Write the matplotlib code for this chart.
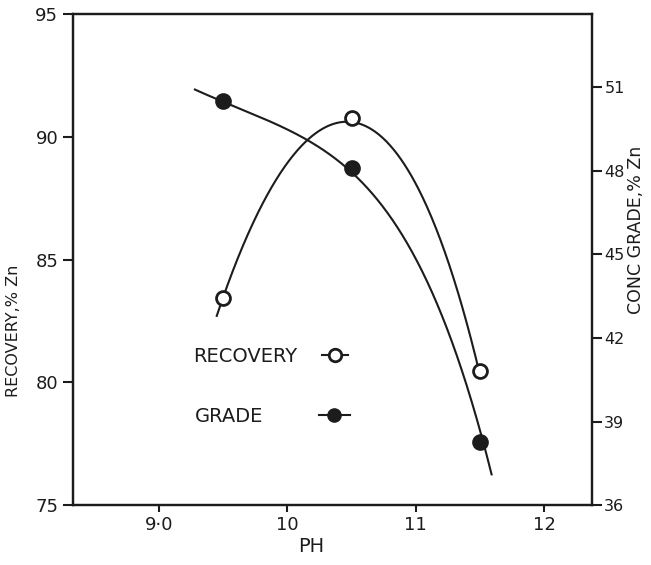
import numpy as np
import matplotlib
matplotlib.use("Agg")
import matplotlib.pyplot as plt

# ---- data ----
ph = [9.5, 10.5, 11.5]
recovery = [83.45, 90.75, 80.45]      # % Zn (left axis)
grade = [50.5, 48.1, 38.27]           # conc grade % Zn (right axis)

# hand-drawn trend curves
rec_curve_ph = [9.45, 9.49, 9.64, 9.83, 10.01, 10.20, 10.47, 10.65, 10.86, 11.07, 11.23, 11.28, 11.50]
rec_curve_val = [82.44, 83.41, 85.77, 87.52, 88.90, 89.72, 90.77, 90.33, 89.43, 87.68, 84.96, 84.15, 80.49]
grade_curve_ph = [9.28, 9.50, 9.85, 10.20, 10.39, 10.52, 10.65, 10.86, 11.08, 11.25, 11.50, 11.59]
grade_curve_val = [50.90, 50.51, 49.85, 48.95, 48.23, 47.99, 47.22, 46.00, 44.09, 42.40, 38.27, 37.37]

xticks = [9.0, 10, 11, 12]
xticklabels = ["9·0", "10", "11", "12"]
left_ticks = [75, 80, 85, 90, 95]
right_ticks = [36, 39, 42, 45, 48, 51]

ink = "#1c1c1c"
plt.rcParams["font.family"] = ["DejaVu Sans"]

fig = plt.figure(figsize=(6.51, 5.65), dpi=100)
ax = fig.add_axes([0.112, 0.106, 0.797, 0.869])
ax2 = ax.twinx()

ax.set_xlim(8.33, 12.37)
ax.set_ylim(75, 95)
ax2.set_ylim(36, 53.63)

# smooth curves from traced points
def smooth(xv, yv, deg):
    c = np.polyfit(xv, yv, deg)
    xs = np.linspace(min(xv), max(xv), 300)
    return xs, np.polyval(c, xs)

xs, ys = smooth(rec_curve_ph, rec_curve_val, 4)
ax.plot(xs, ys, color=ink, lw=1.5, zorder=2)
xs, ys = smooth(grade_curve_ph, grade_curve_val, 4)
ax2.plot(xs, ys, color=ink, lw=1.5, zorder=2)

ax.plot(ph, recovery, linestyle="none", marker="o", ms=10, mfc="white",
        mec=ink, mew=2, zorder=3)
ax2.plot(ph, grade, linestyle="none", marker="o", ms=10.5, mfc=ink,
         mec=ink, mew=1.5, zorder=3)

# legend entries (text first, then handle), one legend per entry
h_rec = plt.Line2D([], [], color=ink, lw=1.5, marker="o", ms=9, mfc="white", mec=ink, mew=2)
h_gr = plt.Line2D([], [], color=ink, lw=1.5, marker="o", ms=9.5, mfc=ink, mec=ink)
leg1 = ax2.legend([h_rec], ["RECOVERY"], loc="upper left",
                  bbox_to_anchor=(0.231, 0.322), frameon=False, markerfirst=False,
                  fontsize=14, handlelength=1.34, handletextpad=1.3, borderpad=0,
                  borderaxespad=0)
ax2.add_artist(leg1)
leg2 = ax2.legend([h_gr], ["GRADE"], loc="upper left",
                  bbox_to_anchor=(0.235, 0.200), frameon=False, markerfirst=False,
                  fontsize=14, handlelength=1.6, handletextpad=2.85, borderpad=0,
                  borderaxespad=0)
for lg in (leg1, leg2):
    for t in lg.get_texts():
        t.set_color(ink)

ax.set_xticks(xticks)
ax.set_xticklabels(xticklabels)
ax.set_yticks(left_ticks)
ax2.set_yticks(right_ticks)

for a in (ax, ax2):
    for s in a.spines.values():
        s.set_linewidth(1.6)
        s.set_color(ink)
ax.tick_params(axis="y", direction="out", length=7, width=1.5, colors=ink,
               labelsize=13, pad=3.6)
ax.tick_params(axis="x", direction="out", length=5, width=1.5, colors=ink,
               labelsize=13, pad=2.5)
ax2.tick_params(axis="y", direction="out", length=7, width=1.5, colors=ink,
                labelsize=11.5, pad=2)

ax.set_xlabel("PH", fontsize=14, color=ink)
ax.xaxis.set_label_coords(0.46, -0.065)
ax.set_ylabel("RECOVERY,% Zn", fontsize=11.5, color=ink)
ax.yaxis.set_label_coords(-0.100, 0.355)
ax2.set_ylabel("CONC GRADE,% Zn", fontsize=12.5, color=ink)
ax2.yaxis.set_label_coords(1.067, 0.561)

fig.savefig("out.png", dpi=100)
